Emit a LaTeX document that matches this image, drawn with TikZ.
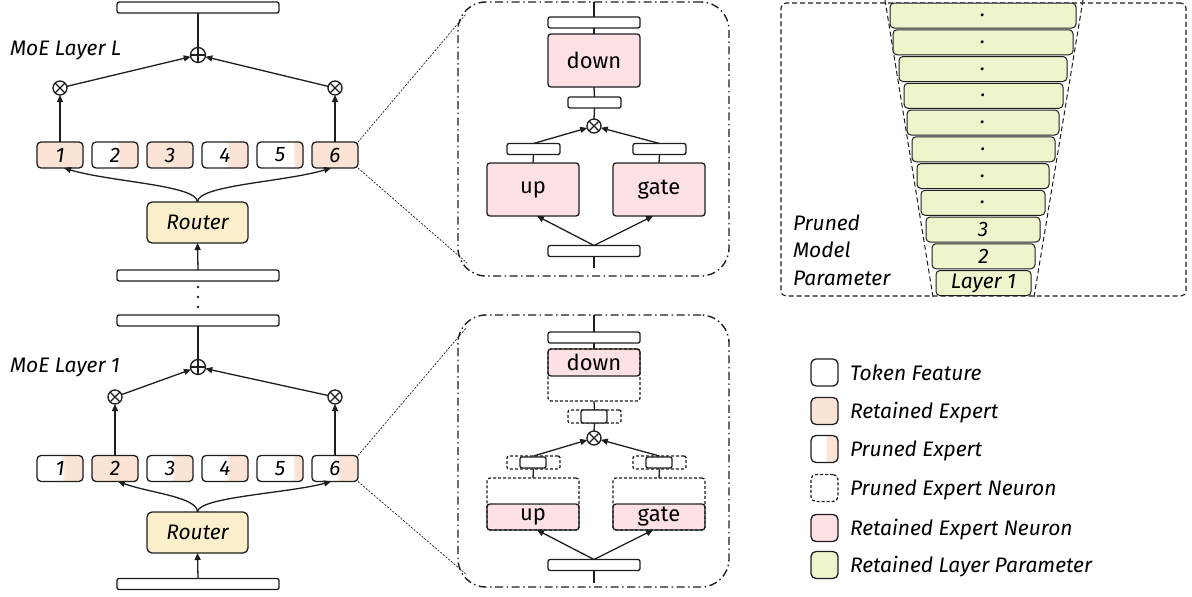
\documentclass[tikz,border=0pt]{standalone}
\usepackage{fontspec}
\setmainfont{Fira Sans}
\usetikzlibrary{arrows.meta}
\definecolor{expc}{HTML}{FBE3D6}
\definecolor{neuc}{HTML}{FDE1E4}
\definecolor{rouc}{HTML}{FBF0CB}
\definecolor{layc}{HTML}{EFF4CD}
\definecolor{linec}{HTML}{1E1E1E}
\pgfdeclarehorizontalshading{prunedA}{100bp}{color(0bp)=(white); color(51bp)=(white); color(55bp)=(expc); color(100bp)=(expc)}
\pgfdeclarehorizontalshading{prunedB}{100bp}{color(0bp)=(white); color(63bp)=(white); color(67bp)=(expc); color(100bp)=(expc)}
\tikzset{
  every node/.style={inner sep=0pt, outer sep=0pt},
  txt/.style={font=\fontsize{21}{25}\selectfont\itshape},
  ln/.style={draw=linec, line width=1.3pt},
  arr/.style={ln, -{Triangle[length=7pt,width=6pt]}},
  bar/.style={ln, fill=white, rounded corners=2pt, minimum height=11pt},
  dbar/.style={ln, dashed, dash pattern=on 3pt off 2pt, fill=white, rounded corners=2pt, minimum height=13pt},
  expert/.style={ln, rounded corners=4pt, minimum width=46pt, minimum height=26pt, txt},
  ret/.style={expert, fill=expc},
  prA/.style={expert, shading=prunedA},
  prB/.style={expert, shading=prunedB},
  router/.style={ln, fill=rouc, rounded corners=5pt, minimum width=101pt, minimum height=41pt, txt},
  neuron/.style={ln, fill=neuc, rounded corners=3pt, minimum width=92pt, font=\fontsize{22}{26}\selectfont\upshape},
  dneuron/.style={ln, dashed, dash pattern=on 3pt off 2pt, rounded corners=3pt, minimum width=92pt, minimum height=52pt},
  otimes/.style={circle, ln, fill=white, minimum size=14pt, path picture={\draw[linec, line width=1.1pt] (path picture bounding box.north west) -- (path picture bounding box.south east) (path picture bounding box.north east) -- (path picture bounding box.south west);}},
  oplus/.style={circle, ln, fill=white, minimum size=15pt, path picture={\draw[linec, line width=1.1pt] (path picture bounding box.north) -- (path picture bounding box.south) (path picture bounding box.west) -- (path picture bounding box.east);}},
  dd/.style={ln, line width=1.4pt, dash pattern=on 8pt off 3.5pt on 1.5pt off 3.5pt, rounded corners=28pt},
  dotl/.style={draw=linec, line width=0.7pt, dash pattern=on 2pt off 1.5pt},
  rframe/.style={draw=linec, line width=1.1pt, dash pattern=on 5pt off 3pt, rounded corners=5pt},
  layer/.style={ln, line width=1pt, fill=layc, rounded corners=4pt, minimum height=25pt, txt},
  leg/.style={ln, rounded corners=5pt, minimum width=27pt, minimum height=27pt},
}
\begin{document}
\begin{tikzpicture}[x=1pt, y=-1pt]
\fill[white] (0,0) rectangle (1192,597);
\useasboundingbox (0,0) rectangle (1192,597);

% ================= MoE Layer L =================
\node[bar, minimum width=162pt] (tL) at (198,7.5) {};
\node[oplus] (pL) at (198,55) {};
\node[txt, anchor=base west] (labL) at (10,55) {MoE Layer L};
\node[otimes] (aL) at (60,88) {};
\node[otimes] (bL) at (335,88) {};
\node[ret] (eL1) at (60,155) {1};
\node[prA] (eL2) at (115,155) {2};
\node[ret] (eL3) at (170,155) {3};
\node[prA] (eL4) at (225,155) {4};
\node[prB] (eL5) at (280,155) {5};
\node[ret] (eL6) at (335,155) {6};
\node[router] (rL) at (197.5,222.5) {Router};
\node[bar, minimum width=162pt] (iL) at (198,275.5) {};
\draw[ln] (tL.south) -- (pL.north);
\draw[arr] (aL) -- (pL);
\draw[arr] (bL) -- (pL);
\draw[arr] (eL1.north) -- (aL.south);
\draw[arr] (eL6.north) -- (bL.south);
\draw[arr] (rL.north) .. controls (197.5,185) and (110,182) .. ([xshift=4pt]eL1.south);
\draw[arr] (rL.north) .. controls (197.5,185) and (285,182) .. ([xshift=-4pt]eL6.south);
\draw[arr] (iL.north) -- (rL.south);

% dots
\fill[linec] (198,287) circle (1.4) (198,297) circle (1.4) (198,307) circle (1.4);

% ================= MoE Layer 1 =================
\node[bar, minimum width=162pt] (t1) at (198,320.5) {};
\node[oplus] (p1) at (198,367) {};
\node[txt, anchor=base west] (lab1) at (10,372) {MoE Layer 1};
\node[otimes] (a1) at (115,397) {};
\node[otimes] (b1) at (335,397) {};
\node[prA] (e11) at (60,468.5) {1};
\node[ret] (e12) at (115,468.5) {2};
\node[prA] (e13) at (170,468.5) {3};
\node[prA] (e14) at (225,468.5) {4};
\node[prB] (e15) at (280,468.5) {5};
\node[prA] (e16) at (335,468.5) {6};
\node[router] (r1) at (197.5,532.5) {Router};
\node[bar, minimum width=162pt] (i1) at (198,584) {};
\draw[ln] (t1.south) -- (p1.north);
\draw[arr] (a1) -- (p1);
\draw[arr] (b1) -- (p1);
\draw[arr] (e12.north) -- (a1.south);
\draw[arr] (e16.north) -- (b1.south);
\draw[arr] (r1.north) .. controls (197.5,497) and (150,493) .. ([xshift=3pt]e12.south);
\draw[arr] (r1.north) .. controls (197.5,497) and (290,493) .. ([xshift=-4pt]e16.south);
\draw[arr] (i1.north) -- (r1.south);

% ================= zoom panel, layer L =================
\node[dd, minimum width=271pt, minimum height=274pt] (fL) at (593.5,139) {};
\coordinate (cL1) at (466,14);
\coordinate (cL2) at (467,263);
\draw[dotl] (eL6.north east) -- (cL1);
\draw[dotl] (eL6.south east) -- (cL2);
\coordinate (mLtop) at (594,2);
\coordinate (mLbot) at (594,268);
\node[bar, minimum width=92pt] (mtbL) at (594,22.5) {};
\node[neuron, minimum height=53pt] (downL) at (594,60.5) {down};
\node[bar, minimum width=53pt] (mmbL) at (594.5,102.5) {};
\node[otimes] (mxL) at (594,126) {};
\node[bar, minimum width=53pt] (lbL) at (533.5,149) {};
\node[bar, minimum width=53pt] (rbL) at (659.5,149) {};
\node[neuron, minimum height=53pt] (upL) at (533,189.5) {up};
\node[neuron, minimum height=53pt] (gateL) at (659,189.5) {gate};
\node[bar, minimum width=92pt] (mbbL) at (594,251) {};
\draw[ln] (mLtop) -- (mtbL.north);
\draw[ln] (mtbL.south) -- (downL.north);
\draw[ln] (downL.south) -- (mmbL.north);
\draw[ln] (mmbL.south) -- (mxL.north);
\draw[arr] (lbL.north) -- (mxL);
\draw[arr] (rbL.north) -- (mxL);
\draw[ln] (lbL.south) -- (upL.north);
\draw[ln] (rbL.south) -- (gateL.north);
\draw[arr] (mbbL.north) -- ([xshift=4pt]upL.south);
\draw[arr] (mbbL.north) -- ([xshift=-6pt]gateL.south);
\draw[ln] (mbbL.south) -- (mLbot);

% ================= zoom panel, layer 1 =================
\node[dd, minimum width=271pt, minimum height=272pt] (f1) at (593.5,451) {};
\coordinate (c11) at (466,328);
\coordinate (c12) at (467,575);
\draw[dotl] (e16.north east) -- (c11);
\draw[dotl] (e16.south east) -- (c12);
\coordinate (m1top) at (594,315);
\coordinate (m1bot) at (594,583);
\node[bar, minimum width=92pt] (mtb1) at (594,337.5) {};
\node[neuron, minimum height=27pt] (down1) at (594,362.5) {down};
\node[dneuron] (down1o) at (594,375) {};
\node[dbar, minimum width=53pt] (mmb1) at (594.5,416.5) {};
\node[bar, minimum width=26pt, minimum height=13pt] (mmb1i) at (594,416.5) {};
\node[otimes] (mx1) at (594,438) {};
\node[dbar, minimum width=53pt] (lb1) at (533.5,462.5) {};
\node[bar, minimum width=26pt] (lb1i) at (533,462.5) {};
\node[dbar, minimum width=53pt] (rb1) at (659.5,462.5) {};
\node[bar, minimum width=26pt] (rb1i) at (659,462.5) {};
\node[neuron, minimum height=26pt] (up1) at (533,517) {up};
\node[dneuron] (up1o) at (533,504) {};
\node[neuron, minimum height=26pt] (gate1) at (659,517) {gate};
\node[dneuron] (gate1o) at (659,504) {};
\node[bar, minimum width=92pt] (mbb1) at (594,565) {};
\draw[ln] (m1top) -- (mtb1.north);
\draw[ln] (mtb1.south) -- (down1o.north);
\draw[ln] (down1o.south) -- (mmb1.north);
\draw[ln] (mmb1.south) -- (mx1.north);
\draw[arr] (lb1.north) -- (mx1);
\draw[arr] (rb1.north) -- (mx1);
\draw[ln] (lb1.south) -- (up1o.north);
\draw[ln] (rb1.south) -- (gate1o.north);
\draw[arr] (mbb1.north) -- ([xshift=4pt]up1.south);
\draw[arr] (mbb1.north) -- ([xshift=-6pt]gate1.south);
\draw[ln] (mbb1.south) -- (m1bot);

% ================= pruned model panel =================
\node[rframe, minimum width=405pt, minimum height=293pt] (rp) at (983.5,149.5) {};
\draw[draw=linec, line width=1pt, dash pattern=on 5pt off 3pt] (885,0) -- (933,297);
\draw[draw=linec, line width=1pt, dash pattern=on 5pt off 3pt] (1083,0) -- (1034,297);
\foreach \i/\xa/\xb/\lab in {1/890/1076/.,2/893/1073/.,3/899/1067/.,4/904/1063/.,5/907/1059/.,6/912/1055/.,7/917/1049/.,8/921/1045/.,9/926/1040/3,10/932/1035/2,11/936/1031/Layer 1}
  \node[layer, minimum width={(\xb-\xa)*1pt}] (layer\i) at ({(\xa+\xb)/2},{15.5+26.75*(\i-1)}) {\lab};
\node[txt, anchor=base west] (pm1) at (793,230) {Pruned};
\node[txt, anchor=base west] (pm2) at (793,257.5) {Model};
\node[txt, anchor=base west] (pm3) at (793,285) {Parameter};

% ================= legend =================
\node[leg, fill=white] (g1) at (824.5,372.5) {};
\node[leg, fill=expc] (g2) at (824.5,411) {};
\node[leg, shading=prunedA] (g3) at (824.5,449) {};
\node[leg, fill=white, dashed, dash pattern=on 3pt off 2pt] (g4) at (824.5,488) {};
\node[leg, fill=neuc] (g5) at (824.5,528) {};
\node[leg, fill=layc] (g6) at (824.5,565) {};
\node[txt, anchor=base west] (t1l) at (850,380) {Token Feature};
\node[txt, anchor=base west] (t2l) at (850,418.5) {Retained Expert};
\node[txt, anchor=base west] (t3l) at (850,456.5) {Pruned Expert};
\node[txt, anchor=base west] (t4l) at (850,495.5) {Pruned Expert Neuron};
\node[txt, anchor=base west] (t5l) at (850,535.5) {Retained Expert Neuron};
\node[txt, anchor=base west] (t6l) at (850,572.5) {Retained Layer Parameter};
\end{tikzpicture}
\end{document}
